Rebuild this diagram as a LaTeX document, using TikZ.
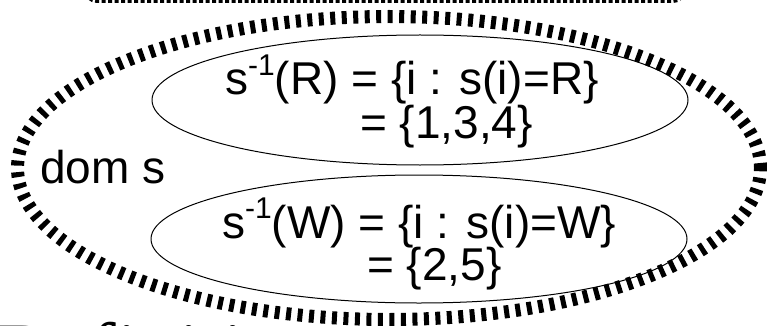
\documentclass[tikz,border=0pt]{standalone}
\usepackage{fontspec}
\setmainfont{Liberation Sans}
\newfontfamily\titlefont{Liberation Serif}
\usetikzlibrary{positioning,shapes.geometric}
\newcommand{\supr}[1]{\raisebox{0.42em}{\fontsize{30}{30}\selectfont #1}}
\tikzset{
  domoval/.style={ellipse,draw=black,line width=13pt,dash pattern=on 5pt off 6.5pt,
    inner sep=0pt,minimum width=743pt,minimum height=303pt},
  fiber/.style={ellipse,draw=black,line width=1pt,inner sep=0pt,
    minimum width=536pt,minimum height=130pt},
  prevbox/.style={rectangle,rounded corners=12pt,draw=black,line width=3pt,
    dash pattern=on 4pt off 2.5pt,inner sep=0pt,minimum width=600pt,minimum height=43pt},
  txt/.style={font=\fontsize{46}{46}\selectfont,inner sep=0pt,anchor=base west},
  ttl/.style={font=\titlefont\fontsize{80}{80}\selectfont,inner sep=0pt,anchor=base west},
}
\begin{document}
\begin{tikzpicture}[x=1pt,y=-1pt]
  \useasboundingbox (0,0) rectangle (767,326);
  \node[prevbox] (prev) at (385,-20) {};
  \node[ttl] (title) at (-4,378) {Definition};
  \node[fiber] (fibR) at (420,100) {};
  \node[fiber,minimum height=128pt] (fibW) at (419,239) {};
  \node[domoval] (dom) at (389,168) {};
  \node[txt] (invR) at (225,95) {s\supr{-1}(R) = \{i : s(i)=R\}};
  \node[txt] (setR) at (360,138) {= \{1,3,4\}};
  \node[txt] (domlbl) at (40,183) {dom s};
  \node[txt] (invW) at (222,238) {s\supr{-1}(W) = \{i : s(i)=W\}};
  \node[txt] (setW) at (367,280) {= \{2,5\}};
\end{tikzpicture}
\end{document}
